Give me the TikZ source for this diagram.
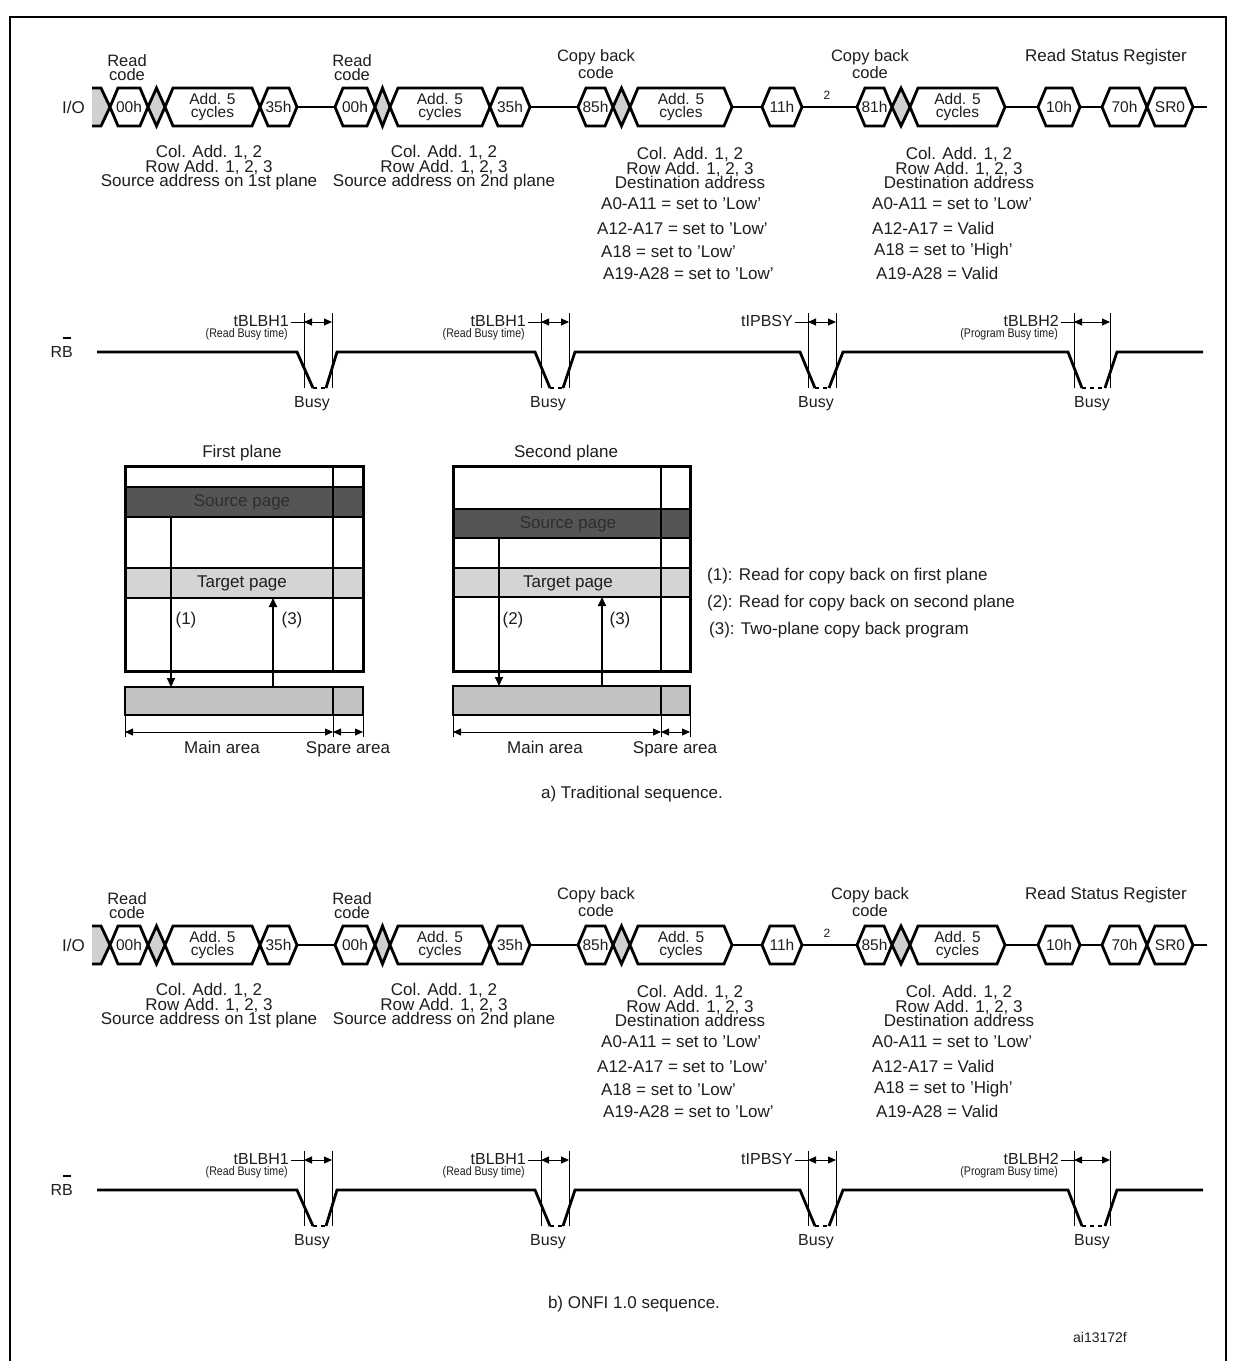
\documentclass[tikz,border=0pt]{standalone}
\usepackage{fontspec}
\setmainfont{Liberation Sans}
\newfontfamily\condfont[FakeStretch=0.85]{Liberation Sans}
\usetikzlibrary{arrows.meta}
\definecolor{ink}{HTML}{1E1E1E}
\definecolor{diag}{HTML}{D0D0D0}
\definecolor{srcfill}{HTML}{555555}
\definecolor{srctext}{HTML}{2E2E2E}
\definecolor{tgtfill}{HTML}{D4D4D4}
\definecolor{buffill}{HTML}{C2C2C2}
\tikzset{
  bus/.style={line width=2.8pt, line join=miter, line cap=butt},
  busdash/.style={line width=2.8pt, dash pattern=on 4pt off 4pt},
  thinl/.style={line width=0.9pt},
  txt/.style={font=\fontsize{17}{14.5}\selectfont, text=ink, inner sep=0pt, align=center},
  lab/.style={font=\fontsize{16.5}{14}\selectfont, text=ink, inner sep=0pt, align=center},
  hext/.style={font=\fontsize{15.5}{13}\selectfont, text=ink, inner sep=0pt, align=center},
  tlab/.style={font=\fontsize{16}{14}\selectfont, text=ink, inner sep=0pt, anchor=east},
  sublab/.style={font=\condfont\fontsize{12.5}{12}\selectfont, text=ink, inner sep=0pt, anchor=east},
  captxt/.style={font=\fontsize{17}{14}\selectfont, text=ink, inner sep=0pt},
  dimarr/.style={line width=0.9pt, {Triangle[length=8pt,width=7pt]}-{Triangle[length=8pt,width=7pt]}},
  flowarr/.style={line width=2pt, -{Triangle[length=9pt,width=8pt]}},
  box/.style={line width=3pt},
  band/.style={line width=2pt},
  divl/.style={line width=1.5pt},
}
% hexagonal bus value: left tip, right tip, y, label, name
\newcommand\iohex[5]{%
  \draw[bus,fill=white] (#1,#3) -- (#1+8,#3-19) -- (#2-8,#3-19) -- (#2,#3) -- (#2-8,#3+19) -- (#1+8,#3+19) -- cycle;
  \node[hext] (#5) at ({(#1+#2)/2},#3) {#4};}
% grey don't-care diamond
\newcommand\iodia[3]{%
  \draw[bus,fill=diag] (#1,#3) -- ({(#1+#2)/2},#3-19) -- (#2,#3) -- ({(#1+#2)/2},#3+19) -- cycle;}
% complete I/O row: y, fourth code, prefix
\newcommand\iorow[3]{%
  \node[txt,anchor=east] (#3io) at (85,#1) {I/O};
  \fill[diag] (92,#1-19) -- (101,#1-19) -- (110,#1) -- (101,#1+19) -- (92,#1+19) -- cycle;
  \draw[bus] (92,#1-19) -- (101,#1-19) -- (110,#1) -- (101,#1+19) -- (92,#1+19);
  \iohex{110}{148}{#1}{00h}{#3c1}
  \iodia{148}{165}{#1}
  \iohex{165}{260}{#1}{Add. 5\\cycles}{#3c2}
  \iohex{260}{297}{#1}{35h}{#3c3}
  \draw[bus] (297,#1) -- (335,#1);
  \iohex{335}{375}{#1}{00h}{#3c4}
  \iodia{375}{390}{#1}
  \iohex{390}{490}{#1}{Add. 5\\cycles}{#3c5}
  \iohex{490}{530}{#1}{35h}{#3c6}
  \draw[bus] (530,#1) -- (578,#1);
  \iohex{578}{613}{#1}{85h}{#3c7}
  \iodia{613}{630}{#1}
  \iohex{630}{732}{#1}{Add. 5\\cycles}{#3c8}
  \draw[bus] (732,#1) -- (762,#1);
  \iohex{762}{802}{#1}{11h}{#3c9}
  \draw[bus] (802,#1) -- (857,#1);
  \node[font=\fontsize{12}{12}\selectfont,text=ink,inner sep=0pt] (#3two) at (827,#1-12) {2};
  \iohex{857}{892}{#1}{#2}{#3c10}
  \iodia{892}{910}{#1}
  \iohex{910}{1005}{#1}{Add. 5\\cycles}{#3c11}
  \draw[bus] (1005,#1) -- (1038,#1);
  \iohex{1038}{1080}{#1}{10h}{#3c12}
  \draw[bus] (1080,#1) -- (1102,#1);
  \iohex{1102}{1147}{#1}{70h}{#3c13}
  \iohex{1147}{1193}{#1}{SR0}{#3c14}
  \draw[bus] (1193,#1) -- (1207,#1);
  % labels above
  \node[lab] (#3rc1) at (127,#1-39) {Read\\code};
  \node[lab] (#3rc2) at (352,#1-39) {Read\\code};
  \node[lab] (#3cb1) at (596,#1-43) {Copy back\\code};
  \node[lab] (#3cb2) at (870,#1-43) {Copy back\\code};
  \node[txt] (#3rsr) at (1106,#1-50) {Read Status Register};
  % address descriptions
  \node[txt] (#3ad1) at (209,#1+61) {Col. Add. 1, 2\\Row Add. 1, 2, 3\\Source address on 1st plane};
  \node[txt] (#3ad2) at (444,#1+61) {Col. Add. 1, 2\\Row Add. 1, 2, 3\\Source address on 2nd plane};
  \node[txt] (#3ad3) at (690,#1+61) {Col. Add. 1, 2\\Row Add. 1, 2, 3\\Destination address};
  \node[txt] (#3ad4) at (959,#1+61) {Col. Add. 1, 2\\Row Add. 1, 2, 3\\Destination address};
  \node[txt,anchor=west] (#3l1) at (601,#1+97) {A0-A11 = set to 'Low'};
  \node[txt,anchor=west] (#3l2) at (597,#1+122) {A12-A17 = set to 'Low'};
  \node[txt,anchor=west] (#3l3) at (601,#1+145) {A18 = set to 'Low'};
  \node[txt,anchor=west] (#3l4) at (603,#1+167) {A19-A28 = set to 'Low'};
  \node[txt,anchor=west] (#3r1) at (872,#1+97) {A0-A11 = set to 'Low'};
  \node[txt,anchor=west] (#3r2) at (872,#1+121) {A12-A17 = Valid};
  \node[txt,anchor=west] (#3r3) at (874,#1+144) {A18 = set to 'High'};
  \node[txt,anchor=west] (#3r4) at (876,#1+166) {A19-A28 = Valid};
}
% timing marker: m1, m2, y, label, sublabel, name
\newcommand\tmark[6]{%
  \draw[thinl] (#1,#3-39) -- (#1,#3+36);
  \draw[thinl] (#2,#3-39) -- (#2,#3+36);
  \draw[dimarr] (#1,#3-30) -- (#2,#3-30);
  \draw[thinl] (#1-13,#3-30) -- (#1,#3-30);
  \node[tlab] (#6) at (#1-15,#3-31) {#4};
  \node[sublab] (#6s) at (#1-16,#3-18) {#5};}
% R/B row: y, prefix
\newcommand\rbrow[2]{%
  \node[tlab] (#2rb) at (73,#1) {RB};
  \draw[line width=1.1pt] (63,#1-14) -- (71,#1-14);
  \draw[bus] (97,#1) -- (297,#1) -- (313,#1+36);
  \draw[busdash] (313,#1+36) -- (326,#1+36);
  \draw[bus] (326,#1+36) -- (337,#1) -- (535,#1) -- (550,#1+36);
  \draw[busdash] (550,#1+36) -- (563,#1+36);
  \draw[bus] (563,#1+36) -- (575,#1) -- (800,#1) -- (815,#1+36);
  \draw[busdash] (815,#1+36) -- (829,#1+36);
  \draw[bus] (829,#1+36) -- (843,#1) -- (1068,#1) -- (1082,#1+36);
  \draw[busdash] (1082,#1+36) -- (1105,#1+36);
  \draw[bus] (1105,#1+36) -- (1117,#1) -- (1203,#1);
  \tmark{304}{332}{#1}{tBLBH1}{(Read Busy time)}{#2t1}
  \tmark{541}{569}{#1}{tBLBH1}{(Read Busy time)}{#2t2}
  \tmark{808}{836}{#1}{tIPBSY}{}{#2t3}
  \tmark{1074}{1110}{#1}{tBLBH2}{(Program Busy time)}{#2t4}
  \node[tlab,anchor=center] (#2b1) at (312,#1+52) {Busy};
  \node[tlab,anchor=center] (#2b2) at (548,#1+52) {Busy};
  \node[tlab,anchor=center] (#2b3) at (816,#1+52) {Busy};
  \node[tlab,anchor=center] (#2b4) at (1092,#1+52) {Busy};
}
\begin{document}
\begin{tikzpicture}[x=1pt,y=-1pt]
\useasboundingbox (0,0) rectangle (1234,1361);
\fill[white] (0,0) rectangle (1234,1361);
% frame
\draw[line width=2.5pt] (10,1366) -- (10,17) -- (1226,17) -- (1226,1366);

% ---------- a) ----------
\iorow{107}{81h}{a}
\rbrow{352}{a}

% first plane
\fill[srcfill] (125,487) rectangle (363,517);
\fill[tgtfill] (125,568) rectangle (363,598);
\draw[band] (125,487) -- (363,487) (125,517) -- (363,517) (125,568) -- (363,568) (125,598) -- (363,598);
\draw[divl] (333,466) -- (333,671);
\draw[box] (125,466) rectangle (363,671);
\node[txt] (p1title) at (242,453) {First plane};
\node[txt,text=srctext] (p1src) at (242,502) {Source page};
\node[txt] (p1tgt) at (242,583) {Target page};
\draw[band,fill=buffill] (125,687) rectangle (363,715);
\draw[divl] (333,687) -- (333,715);
\coordinate (p1a) at (171,517);
\coordinate (p1b) at (171,687);
\coordinate (p1c) at (273,687);
\coordinate (p1d) at (273,598);
\draw[flowarr] (p1a) -- (p1b);
\draw[flowarr] (p1c) -- (p1d);
\node[txt] (p1n1) at (186,620) {(1)};
\node[txt] (p1n3) at (292,620) {(3)};
\draw[thinl] (125,715) -- (125,737) (333,715) -- (333,737) (363,715) -- (363,737);
\coordinate (p1m1) at (125,732);
\coordinate (p1m2) at (333,732);
\coordinate (p1m3) at (363,732);
\draw[dimarr] (p1m1) -- (p1m2);
\draw[dimarr] (p1m2) -- (p1m3);
\node[txt,anchor=base] (p1main) at (222,753) {Main area};
\node[txt,anchor=base] (p1spare) at (348,753) {Spare area};

% second plane
\fill[srcfill] (453,509) rectangle (690,538);
\fill[tgtfill] (453,568) rectangle (690,597);
\draw[band] (453,509) -- (690,509) (453,538) -- (690,538) (453,568) -- (690,568) (453,597) -- (690,597);
\draw[divl] (661,466) -- (661,671);
\draw[box] (453,466) rectangle (690,671);
\node[txt] (p2title) at (566,453) {Second plane};
\node[txt,text=srctext] (p2src) at (568,524) {Source page};
\node[txt] (p2tgt) at (568,583) {Target page};
\draw[band,fill=buffill] (453,686) rectangle (690,715);
\draw[divl] (661,686) -- (661,715);
\coordinate (p2a) at (499,538);
\coordinate (p2b) at (499,686);
\coordinate (p2c) at (602,686);
\coordinate (p2d) at (602,597);
\draw[flowarr] (p2a) -- (p2b);
\draw[flowarr] (p2c) -- (p2d);
\node[txt] (p2n2) at (513,620) {(2)};
\node[txt] (p2n3) at (620,620) {(3)};
\draw[thinl] (453,715) -- (453,737) (661,715) -- (661,737) (690,715) -- (690,737);
\coordinate (p2m1) at (453,732);
\coordinate (p2m2) at (661,732);
\coordinate (p2m3) at (690,732);
\draw[dimarr] (p2m1) -- (p2m2);
\draw[dimarr] (p2m2) -- (p2m3);
\node[txt,anchor=base] (p2main) at (545,753) {Main area};
\node[txt,anchor=base] (p2spare) at (675,753) {Spare area};

% legend
\node[txt,anchor=west] (leg1) at (707,576) {(1): Read for copy back on first plane};
\node[txt,anchor=west] (leg2) at (707,603) {(2): Read for copy back on second plane};
\node[txt,anchor=west] (leg3) at (709,630) {(3): Two-plane copy back program};

\node[captxt] (capa) at (632,794) {a) Traditional sequence.};

% ---------- b) ----------
\iorow{945}{85h}{b}
\rbrow{1190}{b}

\node[captxt] (capb) at (634,1304) {b) ONFI 1.0 sequence.};
\node[captxt,font=\fontsize{14}{14}\selectfont] (ref) at (1100,1337) {ai13172f};
\end{tikzpicture}
\end{document}
